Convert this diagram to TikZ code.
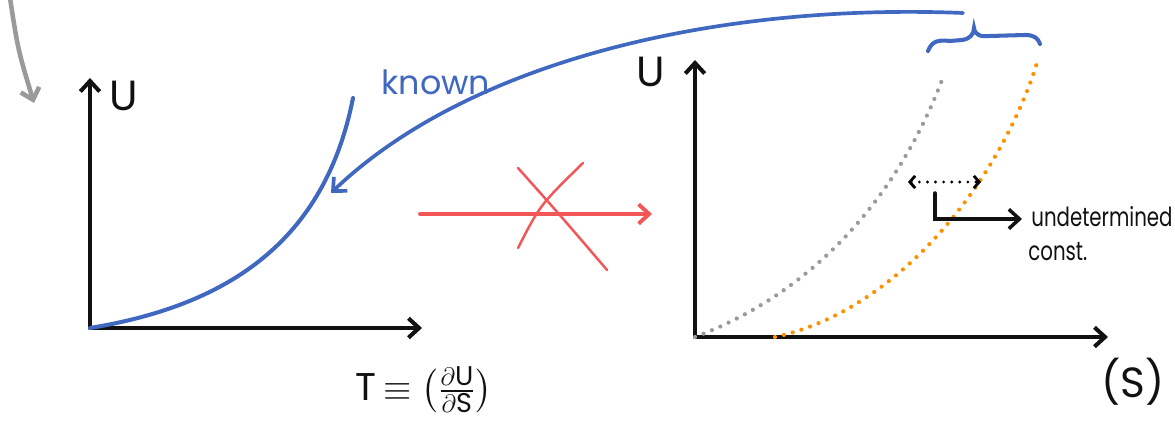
\documentclass[tikz,border=0pt]{standalone}
\usepackage{amsmath}
\usepackage{fontspec}
\setmainfont{Poppins}
\definecolor{penc}{HTML}{111111}
\definecolor{bluec}{HTML}{4068C0}
\definecolor{redc}{HTML}{F25656}
\definecolor{orangec}{HTML}{FF9000}
\definecolor{grayc}{HTML}{9A9A9A}
\usetikzlibrary{arrows.meta,positioning,calc}
\tikzset{
  >={Straight Barb[length=6pt,width=11pt]},
  axis/.style={->,line width=2.3pt,draw=penc,line cap=round},
  curve/.style={line width=2.3pt,draw=bluec,line cap=round},
  bluearr/.style={->,line width=2.1pt,draw=bluec,line cap=round},
  grayarr/.style={->,line width=2.6pt,draw=grayc,line cap=round},
  redarr/.style={->,line width=2.2pt,draw=redc,line cap=round},
  redx/.style={line width=1.4pt,draw=redc,line cap=round},
  dots/.style={line width=2.4pt,line cap=round,dash pattern=on 0pt off 5.2pt},
  dif/.style={<->,line width=1.8pt,line cap=round,dash pattern=on 0pt off 4.6pt,
    >={Straight Barb[length=3pt,width=7pt,line width=1.6pt]}},
  lab/.style={font=\fontsize{24}{28}\selectfont,text=penc,inner sep=0pt},
  note/.style={font=\fontsize{15}{17}\selectfont,text=penc,inner sep=0pt,anchor=west},
  bnote/.style={font=\fontsize{19}{22}\selectfont,text=bluec,inner sep=0pt},
}
\newcommand{\narrow}[1]{\scalebox{0.75}[1]{#1}}
\begin{document}
\begin{tikzpicture}[x=0.02cm,y=-0.02cm]
  \clip (0,0) rectangle (1175,425);
  % left graph: known U(T)
  \coordinate (o1) at (90,328);
  \coordinate (y1) at (90,78);
  \coordinate (x1) at (422,328);
  \coordinate (c1) at (353,98);
  \draw[axis] (o1) -- (y1);
  \draw[axis] (o1) -- (x1);
  \node[lab] (u1) at (124,96) {U};
  \node[lab,font=\fontsize{22}{26}\selectfont] (tdef) at (424,390) {T\,$\equiv\left(\frac{\partial\text{U}}{\partial\text{S}}\right)$};
  \draw[curve] (o1) .. controls (230,305) and (325,240) .. (c1);
  \node[bnote] (known) at (436,82) {known};
  % arrow from the top text
  \coordinate (top) at (10,-2);
  \coordinate (tip) at (34,103);
  \draw[grayarr] (top) .. controls (18,50) .. (tip);
  % not invertible
  \coordinate (ra) at (420,214);
  \coordinate (rb) at (652,214);
  \draw[redarr] (ra) -- (rb);
  \draw[redx] (518,168) .. controls (560,215) .. (607,270);
  \draw[redx] (583,163) .. controls (540,205) .. (518,248);
  % right graph: U(S)
  \coordinate (o2) at (695,337);
  \coordinate (y2) at (695,60);
  \coordinate (x2) at (1108,337);
  \draw[axis] (o2) -- (y2);
  \draw[axis] (o2) -- (x2);
  \node[lab] (u2) at (651,72) {U};
  \node[lab] (s2) at (1133,382) {(S)};
  \draw[dots,draw=grayc] (o2) .. controls (820,290) and (900,190) .. (942,80);
  \draw[dots,draw=orangec] (775,337) .. controls (900,310) and (1000,180) .. (1037,63);
  \coordinate (da) at (908,182);
  \coordinate (db) at (981,182);
  \draw[dif] (da) -- (db);
  \coordinate (ka) at (935,193);
  \coordinate (kb) at (1022,219);
  \draw[axis,line width=2pt] (ka) |- (kb);
  \node[note] (und) at (1031,217) {\narrow{undetermined}};
  \node[note] (cst) at (1028,252) {\narrow{const.}};
  % brace and link back to the known curve
  \draw[curve] (928,51) .. controls (932,40) and (940,40) .. (950,41) -- (962,40)
    .. controls (970,39) and (974,34) .. (974,28)
    .. controls (975,35) and (980,37) .. (990,36) -- (1025,35)
    .. controls (1034,35) and (1038,38) .. (1040,44);
  \coordinate (br) at (963,13);
  \coordinate (kn) at (331,193);
  \draw[bluearr] (br) .. controls (720,3) and (470,60) .. (kn);
\end{tikzpicture}
\end{document}
